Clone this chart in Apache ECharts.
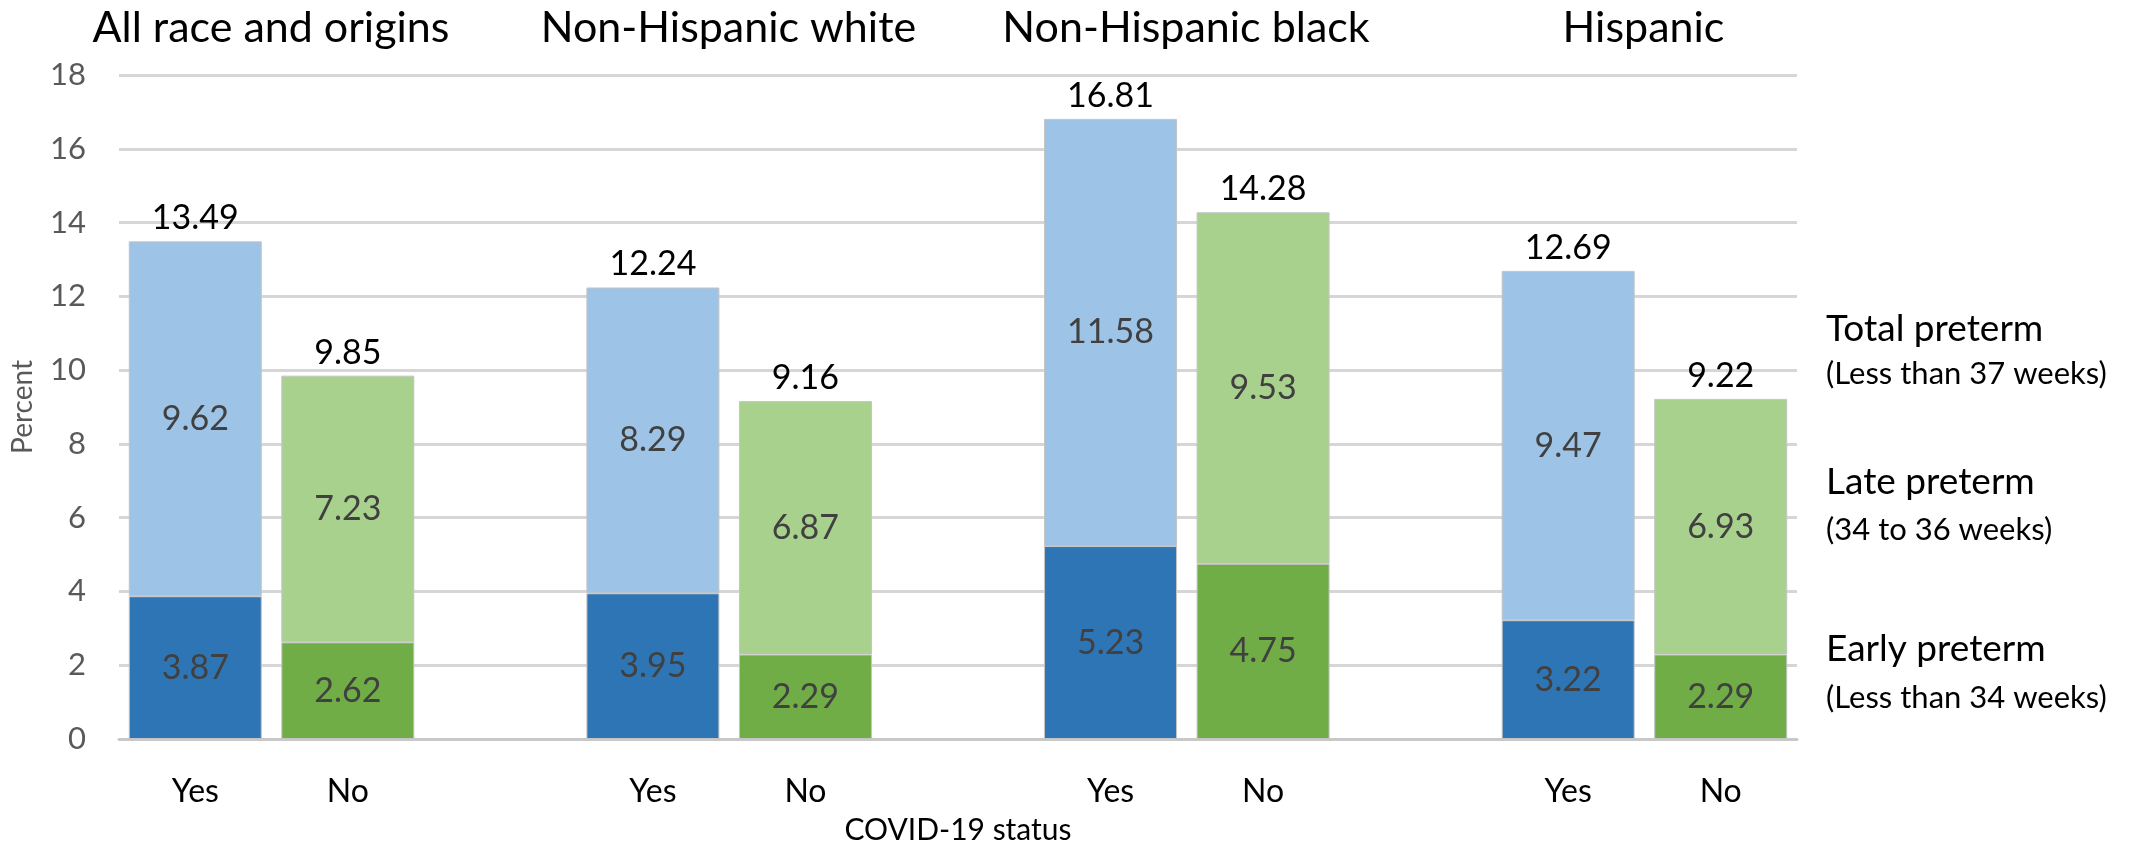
<!DOCTYPE html>
<html><head><meta charset="utf-8">
<script src="https://cdn.jsdelivr.net/npm/echarts@6/dist/echarts.min.js"></script>
<style>html,body{margin:0;padding:0;background:#fff}#c{width:2131px;height:850px}</style>
</head><body><div id="c"></div>
<script>
// ---- data ----
const groups = ['All race and origins', 'Non-Hispanic white', 'Non-Hispanic black', 'Hispanic'];
const statusLabels = ['Yes', 'No'];
const yesEarly = [3.87, 3.95, 5.23, 3.22];
const yesLate  = [9.62, 8.29, 11.58, 9.47];
const noEarly  = [2.62, 2.29, 4.75, 2.29];
const noLate   = [7.23, 6.87, 9.53, 6.93];
const yesTotal = [13.49, 12.24, 16.81, 12.69];
const noTotal  = [9.85, 9.16, 14.28, 9.22];
const yMin = 0, yMax = 18, yStep = 2;
const legendNotes = [
  ['Total preterm', '(Less than 37 weeks)'],
  ['Late preterm', '(34 to 36 weeks)'],
  ['Early preterm', '(Less than 34 weeks)']
];
const xAxisName = 'COVID-19 status';
const yAxisName = 'Percent';

// ---- build slots: Yes, No, gap, Yes, No, gap ... ----
const slots = [];
groups.forEach((g, i) => {
  slots.push(statusLabels[0], statusLabels[1]);
  if (i < groups.length - 1) slots.push('');
});
function slotData(yesArr, noArr) {
  const out = [];
  groups.forEach((g, i) => {
    out.push(yesArr ? yesArr[i] : null, noArr ? noArr[i] : null);
    if (i < groups.length - 1) out.push(null);
  });
  return out;
}

const FONT = 'Lato';
const innerLabel = { show: true, position: 'inside', fontFamily: FONT, fontSize: 34, color: '#404040',
  formatter: p => p.value.toFixed(2) };
const border = { borderColor: '#C4C4C4', borderWidth: 1 };
const BW = 133;

const chart = echarts.init(document.getElementById('c'), null, { renderer: 'canvas' });
chart.setOption({
  backgroundColor: '#fff',
  animation: false,
  textStyle: { fontFamily: FONT },
  grid: [
    { left: 119, right: 334, top: 75, bottom: 95 },
    { left: 42.25, right: 258.75, top: 75, bottom: 95 }
  ],
  xAxis: [
    {
      type: 'category', gridIndex: 0, data: slots,
      axisTick: { show: false },
      axisLine: { lineStyle: { color: '#C8C8C8', width: 3 } },
      axisLabel: { fontFamily: FONT, fontSize: 32, color: '#000', margin: 37, interval: 0 },
      name: xAxisName, nameLocation: 'middle', nameGap: 76,
      nameTextStyle: { fontFamily: FONT, fontSize: 30, color: '#000' }
    },
    {
      type: 'category', gridIndex: 1, data: groups, position: 'top',
      axisTick: { show: false }, axisLine: { show: false },
      axisLabel: { fontFamily: FONT, fontSize: 43, color: '#000', margin: 25, interval: 0 }
    }
  ],
  yAxis: [
    {
      type: 'value', gridIndex: 0, min: yMin, max: yMax, interval: yStep,
      axisLine: { show: false }, axisTick: { show: false },
      splitLine: { lineStyle: { color: '#D6D6D6', width: 3 } },
      axisLabel: { fontFamily: FONT, fontSize: 31, color: '#595959', margin: 33 },
      name: yAxisName, nameLocation: 'middle', nameGap: 82, nameRotate: 90,
      nameTextStyle: { fontFamily: FONT, fontSize: 28, color: '#595959' }
    },
    { type: 'value', gridIndex: 1, show: false, min: 0, max: 1 }
  ],
  series: [
    { name: 'Yes early', type: 'bar', stack: 'pt', barWidth: BW, barGap: '-100%',
      data: slotData(yesEarly, null), itemStyle: Object.assign({ color: '#2E75B6' }, border), label: innerLabel },
    { name: 'Yes late', type: 'bar', stack: 'pt', barWidth: BW, barGap: '-100%',
      data: slotData(yesLate, null), itemStyle: Object.assign({ color: '#9DC3E6' }, border), label: innerLabel },
    { name: 'No early', type: 'bar', stack: 'pt', barWidth: BW, barGap: '-100%',
      data: slotData(null, noEarly), itemStyle: Object.assign({ color: '#70AD47' }, border), label: innerLabel },
    { name: 'No late', type: 'bar', stack: 'pt', barWidth: BW, barGap: '-100%',
      data: slotData(null, noLate), itemStyle: Object.assign({ color: '#A9D18E' }, border), label: innerLabel },
    { name: 'Total', type: 'bar', barWidth: BW, barGap: '-100%', z: 1, silent: true,
      data: slotData(yesTotal, noTotal), itemStyle: { color: 'rgba(0,0,0,0)' },
      label: { show: true, position: 'top', distance: 6, fontFamily: FONT, fontSize: 34, color: '#000',
        formatter: p => p.value.toFixed(2) } }
  ],
  graphic: (function () {
    const ys = [[329, 374], [482, 530], [649, 698]];
    const els = [];
    legendNotes.forEach((n, i) => {
      els.push({ type: 'text', x: 1826, y: ys[i][0],
        style: { text: n[0], fontFamily: FONT, fontSize: 37, fill: '#000', verticalAlign: 'middle' } });
      els.push({ type: 'text', x: 1826, y: ys[i][1],
        style: { text: n[1], fontFamily: FONT, fontSize: 31, fill: '#000', verticalAlign: 'middle' } });
    });
    return els;
  })()
});
</script>
</body></html>
